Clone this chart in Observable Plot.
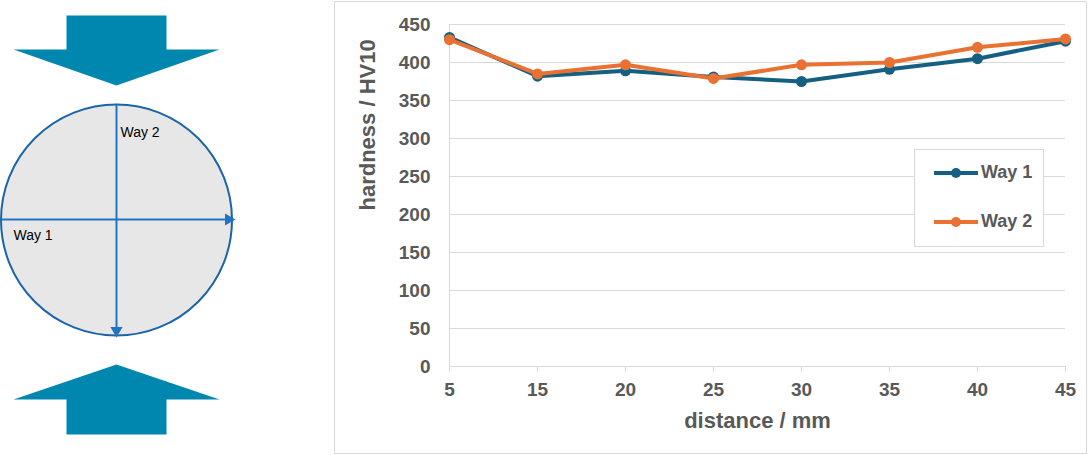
<!DOCTYPE html>
<html><head><meta charset="utf-8">
<script src="https://cdn.jsdelivr.net/npm/d3@7"></script>
<script src="https://cdn.jsdelivr.net/npm/@observablehq/plot@0.6"></script>
<style>
html,body{margin:0;padding:0;background:#fff;}
#root{position:relative;width:1089px;height:455px;overflow:hidden;font-family:"Liberation Sans",Arial,sans-serif;}
#diagram{position:absolute;left:0;top:0;}
#frame{position:absolute;left:334px;top:1px;width:753px;height:453px;border:1px solid #D9D9D9;box-sizing:border-box;}
#chart{position:absolute;left:334px;top:0;}
#legend{position:absolute;left:914px;top:149px;width:130px;height:98px;border:1px solid #D9D9D9;box-sizing:border-box;background:#fff;}
.item{position:absolute;left:18px;display:flex;align-items:center;font-weight:bold;font-size:18px;color:#595959;}
.item svg{display:block;margin-right:2px;}
</style></head>
<body><div id="root"><div id="diagram"></div><div id="frame"></div><div id="chart"></div><div id="legend"></div></div>
<script>
// ---- chart data ----
const distances = ["5","15","20","25","30","35","40","45"];
const way1 = [433, 382, 389, 381, 375, 391, 405, 428];
const way2 = [430, 385, 397, 379, 397, 400, 420, 431];
const yTicks = [0,50,100,150,200,250,300,350,400,450];
const seriesNames = ["Way 1","Way 2"];
const seriesColors = ["#156082","#E97132"];
const xLabel = "distance / mm";
const yLabel = "hardness / HV10";

// ---- diagram data ----
const downArrow = [[66,15],[166,15],[166,49],[219,49],[116,85],[13,49],[66,49],[66,15]];
const upArrow = [[116,364],[219,399],[166,399],[166,434],[66,434],[66,399],[13,399],[116,364]];
const specimen = [{cx:116, cy:219.5}];
const wayLines = [{x1:1,y1:219,x2:226,y2:219},{x1:116,y1:104,x2:116,y2:328}];
const wayHeads = [{x:228,y:219,rot:90},{x:116,y:330,rot:180}];
const wayLabels = [{x:13,y:235,t:"Way 1"},{x:120,y:132,t:"Way 2"}];

const table = [];
[way1, way2].forEach((vals, i) => vals.forEach((v, j) => table.push({series: seriesNames[i], distance: distances[j], value: v})));

const font = '"Liberation Sans", Arial, sans-serif';
const textColor = "#595959";
const grid = "#D9D9D9";

const chart = Plot.plot({
  width: 753, height: 455,
  marginLeft: 115, marginRight: 22, marginTop: 24, marginBottom: 89,
  style: {fontFamily: font, background: "transparent", color: textColor},
  x: {type: "point", domain: distances, padding: 0, label: null},
  y: {domain: [0, 450], label: null},
  color: {domain: seriesNames, range: seriesColors},
  marks: [
    Plot.gridY(yTicks, {stroke: grid, strokeOpacity: 1}),
    Plot.ruleX([distances[0]], {stroke: grid}),
    Plot.axisX({tickSize: 6, tickPadding: 10, stroke: grid, fill: textColor, fontSize: 19, fontWeight: "bold"}),
    Plot.axisY(yTicks, {tickSize: 0, tickPadding: 19, fill: textColor, fontSize: 19, fontWeight: "bold", label: null}),
    Plot.text([xLabel], {frameAnchor: "bottom", dy: 61, fontSize: 22, fontWeight: "bold", fill: textColor}),
    Plot.text([yLabel], {frameAnchor: "left", dx: -82, dy: 15, rotate: -90, fontSize: 22, fontWeight: "bold", fill: textColor}),
    ...seriesNames.flatMap(name => [
      Plot.line(table.filter(d => d.series === name), {x: "distance", y: "value", stroke: "series", strokeWidth: 4, strokeLinejoin: "round"}),
      Plot.dot(table.filter(d => d.series === name), {x: "distance", y: "value", fill: "series", r: 5.5})
    ])
  ]
});
document.getElementById("chart").appendChild(chart);

// legend
const legend = document.getElementById("legend");
seriesNames.forEach((name, i) => {
  const item = document.createElement("div");
  item.className = "item";
  item.style.top = (i === 0 ? 12 : 61) + "px";
  item.innerHTML = `<svg width="46" height="12"><line x1="1" y1="6" x2="45" y2="6" stroke="${seriesColors[i]}" stroke-width="4"/><circle cx="23" cy="6" r="5" fill="${seriesColors[i]}"/></svg><span>${name}</span>`;
  legend.appendChild(item);
});

// diagram
const diagram = Plot.plot({
  width: 240, height: 455,
  margin: 0,
  style: {fontFamily: font, background: "transparent"},
  x: {domain: [0, 240], axis: null},
  y: {domain: [0, 455], range: [0, 455], axis: null},
  marks: [
    Plot.line(downArrow, {x: d => d[0], y: d => d[1], fill: "#0087AF", stroke: "none"}),
    Plot.line(upArrow, {x: d => d[0], y: d => d[1], fill: "#0087AF", stroke: "none"}),
    Plot.dot(specimen, {x: "cx", y: "cy", r: 115.5, fill: "#E7E7E7", stroke: "#1C64A8", strokeWidth: 2}),
    Plot.link(wayLines, {x1: "x1", y1: "y1", x2: "x2", y2: "y2", stroke: "#1F74C4", strokeWidth: 2}),
    Plot.dot(wayHeads, {x: "x", y: "y", symbol: "triangle", rotate: "rot", r: 4.5, fill: "#1F74C4", stroke: "none"}),
    Plot.text(wayLabels, {x: "x", y: "y", text: "t", textAnchor: "start", fontSize: 14, fill: "#000"})
  ]
});
document.getElementById("diagram").appendChild(diagram);
</script></body></html>
